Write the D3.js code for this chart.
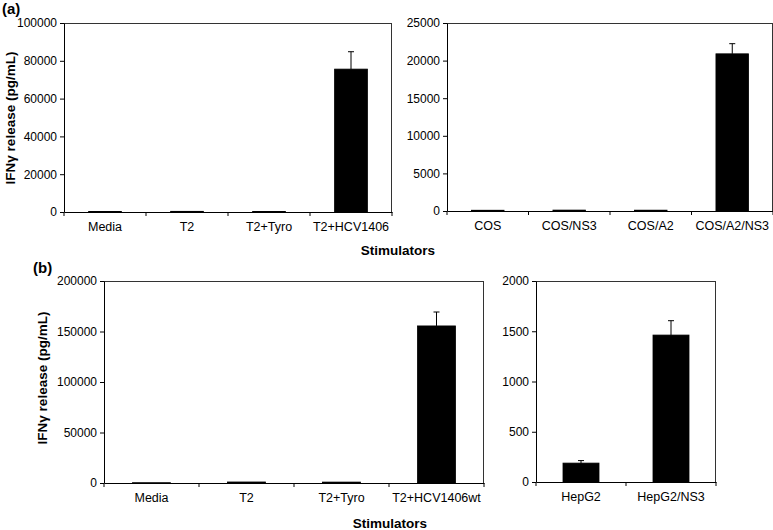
<!DOCTYPE html>
<html><head><meta charset="utf-8">
<script src="https://cdn.jsdelivr.net/npm/d3@7"></script>
<style>
body{margin:0;background:#fff;}
svg{display:block;font-family:Arial,"Liberation Sans",sans-serif;}
</style></head>
<body>
<svg id="c" width="773" height="530"></svg>
<script>
// ---- data ----
const catsA1 = ["Media", "T2", "T2+Tyro", "T2+HCV1406"];
const valsA1 = [250, 350, 300, 75600];
const errA1  = [0, 0, 0, 9200];
const ticksA1 = [0, 20000, 40000, 60000, 80000, 100000];

const catsA2 = ["COS", "COS/NS3", "COS/A2", "COS/A2/NS3"];
const valsA2 = [100, 120, 110, 20900];
const errA2  = [0, 0, 0, 1350];
const ticksA2 = [0, 5000, 10000, 15000, 20000, 25000];

const catsB1 = ["Media", "T2", "T2+Tyro", "T2+HCV1406wt"];
const valsB1 = [300, 1000, 900, 155500];
const errB1  = [0, 0, 0, 13800];
const ticksB1 = [0, 50000, 100000, 150000, 200000];

const catsB2 = ["HepG2", "HepG2/NS3"];
const valsB2 = [188, 1462];
const errB2  = [25, 143];
const ticksB2 = [0, 500, 1000, 1500, 2000];

const yTitle = "IFNγ release (pg/mL)";
const xTitle = "Stimulators";

const svg = d3.select("#c");

function panel(cats, vals, errs, ticks, box) {
  const g = svg.append("g");
  const x = d3.scaleBand().domain(cats).range([box.x0, box.x1])
    .paddingInner(0.6).paddingOuter(0.3);
  const y = d3.scaleLinear().domain([ticks[0], ticks[ticks.length - 1]]).range([box.y1, box.y0]);

  // frame top & right
  g.append("line").attr("x1", box.x0).attr("x2", box.x1).attr("y1", box.y0 + 0.5).attr("y2", box.y0 + 0.5)
    .attr("stroke", "#333").attr("stroke-width", 1);
  g.append("line").attr("x1", box.x1 - 0.5).attr("x2", box.x1 - 0.5).attr("y1", box.y0).attr("y2", box.y1)
    .attr("stroke", "#333").attr("stroke-width", 1);

  // bars
  const data = cats.map((c, i) => ({c, v: vals[i], e: errs[i]}));
  g.selectAll("rect.bar").data(data).join("rect").attr("class", "bar")
    .attr("x", d => x(d.c)).attr("width", x.bandwidth())
    .attr("y", d => y(d.v)).attr("height", d => y(0) - y(d.v))
    .attr("fill", "#000").attr("stroke", "#000").attr("stroke-width", 0.8);

  // error bars
  const eb = data.filter(d => d.e > 0);
  g.selectAll("line.ev").data(eb).join("line").attr("class", "ev")
    .attr("x1", d => x(d.c) + x.bandwidth() / 2).attr("x2", d => x(d.c) + x.bandwidth() / 2)
    .attr("y1", d => y(d.v)).attr("y2", d => y(d.v + d.e))
    .attr("stroke", "#000").attr("stroke-width", 1);
  g.selectAll("line.ec").data(eb).join("line").attr("class", "ec")
    .attr("x1", d => x(d.c) + x.bandwidth() / 2 - 3).attr("x2", d => x(d.c) + x.bandwidth() / 2 + 3)
    .attr("y1", d => y(d.v + d.e)).attr("y2", d => y(d.v + d.e))
    .attr("stroke", "#000").attr("stroke-width", 1);

  // y axis
  const ya = g.append("g").attr("transform", `translate(${box.x0},0)`)
    .call(d3.axisLeft(y).tickValues(ticks).tickFormat(d3.format("d")).tickSize(4).tickPadding(3).tickSizeOuter(0));
  ya.selectAll("text").attr("font-size", "12px").attr("fill", "#000").attr("font-family", "Arial, 'Liberation Sans', sans-serif");
  ya.selectAll("line").attr("stroke", "#000");
  ya.select(".domain").attr("stroke", "#000");

  // x axis (labels)
  const xa = g.append("g").attr("transform", `translate(0,${box.y1})`)
    .call(d3.axisBottom(x).tickSize(0).tickPadding(10).tickSizeOuter(0));
  xa.selectAll("text").attr("font-size", "12.5px").attr("fill", "#000").attr("font-family", "Arial, 'Liberation Sans', sans-serif");
  xa.select(".domain").attr("stroke", "#000");
  // boundary tick marks
  const step = x.step();
  const bounds = d3.range(cats.length + 1).map(i => box.x0 + i * step);
  g.selectAll("line.bt").data(bounds).join("line").attr("class", "bt")
    .attr("x1", d => d).attr("x2", d => d).attr("y1", box.y1).attr("y2", box.y1 + 4)
    .attr("stroke", "#000");
  return {x, y};
}

panel(catsA1, valsA1, errA1, ticksA1, {x0: 64, x1: 392, y0: 23, y1: 212});
panel(catsA2, valsA2, errA2, ticksA2, {x0: 447, x1: 773, y0: 23, y1: 211});
panel(catsB1, valsB1, errB1, ticksB1, {x0: 104, x1: 484, y0: 281, y1: 483});
panel(catsB2, valsB2, errB2, ticksB2, {x0: 536, x1: 716, y0: 281, y1: 482});

// titles
function txt(x, y, s, size, rot) {
  const t = svg.append("text").attr("x", x).attr("y", y).text(s)
    .attr("font-size", size).attr("font-weight", "bold").attr("fill", "#000");
  if (rot) t.attr("transform", `rotate(-90,${x},${y})`).attr("text-anchor", "middle");
  return t;
}
txt(2, 14, "(a)", "15px");
txt(33, 273, "(b)", "15px");
txt(398, 255, xTitle, "13.5px").attr("text-anchor", "middle");
txt(390, 528, xTitle, "13.5px").attr("text-anchor", "middle");
txt(15, 118, yTitle, "13.5px", true);
txt(47, 378, yTitle, "13.5px", true);
</script>
</body></html>
